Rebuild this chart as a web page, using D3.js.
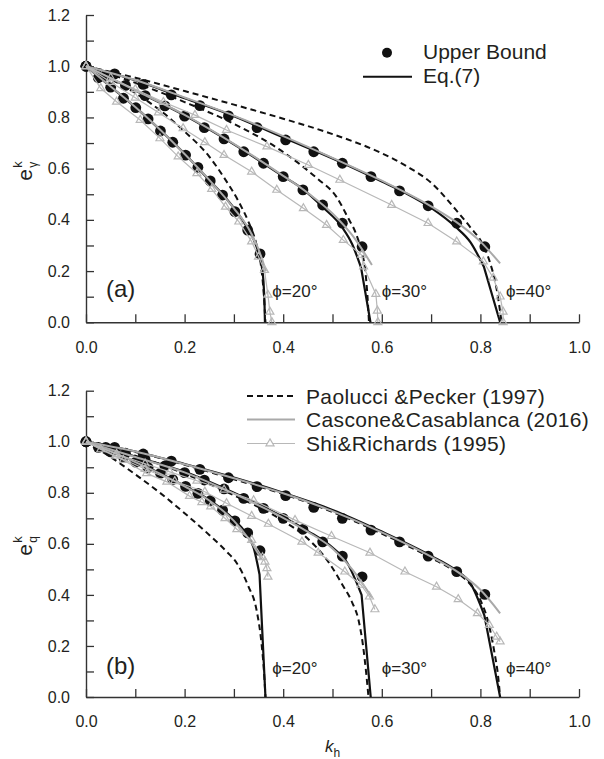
<!DOCTYPE html>
<html>
<head>
<meta charset="utf-8">
<script src="https://cdn.jsdelivr.net/npm/d3@7"></script>
<style>body{margin:0;background:#fff}</style>
</head>
<body>
<script>
// ---- data: [kh, e] pairs ----
// (a) e_gamma
const ubA20 = [[0,1],[0.025,0.955],[0.05,0.918],[0.076,0.875],[0.101,0.838],[0.126,0.794],[0.151,0.747],[0.176,0.703],[0.202,0.653],[0.227,0.605],[0.252,0.552],[0.277,0.497],[0.302,0.432],[0.328,0.36],[0.353,0.267]];
const ubA30 = [[0,1],[0.04,0.963],[0.08,0.925],[0.12,0.885],[0.16,0.845],[0.2,0.805],[0.24,0.76],[0.28,0.716],[0.32,0.666],[0.36,0.621],[0.4,0.569],[0.44,0.517],[0.48,0.458],[0.52,0.387],[0.56,0.295]];
const ubA40 = [[0,1],[0.058,0.97],[0.116,0.929],[0.173,0.888],[0.231,0.846],[0.289,0.806],[0.347,0.76],[0.405,0.712],[0.462,0.666],[0.52,0.621],[0.578,0.569],[0.636,0.513],[0.694,0.455],[0.752,0.387],[0.809,0.295]];

const eqA20 = [[0,1],[0.05,0.92],[0.1,0.84],[0.15,0.752],[0.2,0.658],[0.25,0.555],[0.28,0.493],[0.31,0.42],[0.33,0.36],[0.345,0.3],[0.355,0.235],[0.36,0.16],[0.362,0.08],[0.363,0]];
const eqA30 = [[0,1],[0.1,0.905],[0.2,0.808],[0.3,0.695],[0.4,0.57],[0.44,0.52],[0.48,0.45],[0.52,0.37],[0.54,0.305],[0.558,0.213],[0.577,0]];
const eqA40 = [[0,1],[0.1,0.945],[0.2,0.875],[0.3,0.805],[0.4,0.722],[0.5,0.64],[0.6,0.55],[0.65,0.503],[0.7,0.447],[0.75,0.372],[0.78,0.312],[0.807,0.217],[0.84,0]];

const ppA20 = [[0,1],[0.05,0.95],[0.1,0.895],[0.15,0.828],[0.2,0.745],[0.25,0.647],[0.28,0.565],[0.31,0.47],[0.33,0.39],[0.345,0.31],[0.355,0.22],[0.361,0.1],[0.364,0]];
const ppA30 = [[0,1],[0.1,0.935],[0.2,0.86],[0.3,0.775],[0.4,0.665],[0.434,0.617],[0.47,0.56],[0.508,0.49],[0.532,0.406],[0.546,0.354],[0.559,0.276],[0.566,0.21],[0.571,0.1],[0.574,0]];
const ppA40 = [[0,1],[0.1,0.955],[0.2,0.903],[0.3,0.85],[0.4,0.795],[0.5,0.735],[0.6,0.66],[0.65,0.61],[0.7,0.545],[0.75,0.44],[0.78,0.37],[0.803,0.31],[0.82,0.23],[0.832,0.14],[0.843,0]];

const ccA20 = [[0,1],[0.05,0.921],[0.1,0.841],[0.15,0.753],[0.2,0.657],[0.25,0.556],[0.3,0.445],[0.33,0.365],[0.35,0.285],[0.365,0.2]];
const ccA30 = [[0,1],[0.1,0.906],[0.2,0.81],[0.3,0.697],[0.4,0.572],[0.45,0.505],[0.5,0.425],[0.54,0.34],[0.58,0.224]];
const ccA40 = [[0,1],[0.1,0.946],[0.2,0.878],[0.3,0.807],[0.4,0.727],[0.5,0.642],[0.6,0.553],[0.7,0.453],[0.75,0.393],[0.8,0.315],[0.84,0.23]];

const srA20 = [[0,1],[0.03,0.914],[0.062,0.861],[0.11,0.79],[0.15,0.718],[0.187,0.647],[0.225,0.582],[0.255,0.52],[0.283,0.451],[0.31,0.393],[0.336,0.315],[0.35,0.256],[0.362,0.204],[0.369,0.107],[0.373,0.041],[0.377,0]];
const srA30 = [[0,1],[0.05,0.938],[0.1,0.877],[0.147,0.819],[0.197,0.757],[0.241,0.703],[0.28,0.653],[0.336,0.588],[0.387,0.517],[0.441,0.445],[0.488,0.38],[0.522,0.321],[0.559,0.263],[0.563,0.218],[0.588,0.11],[0.591,0.045],[0.592,0]];
const srA40 = [[0,1],[0.05,0.955],[0.1,0.91],[0.157,0.86],[0.221,0.809],[0.285,0.751],[0.367,0.686],[0.451,0.614],[0.515,0.556],[0.62,0.458],[0.694,0.387],[0.752,0.315],[0.806,0.237],[0.826,0.174],[0.84,0.1],[0.846,0.041],[0.846,0]];

// (b) e_q
const ubB20 = [[0,1],[0.025,0.978],[0.05,0.96],[0.076,0.94],[0.101,0.92],[0.126,0.899],[0.151,0.877],[0.176,0.852],[0.202,0.825],[0.227,0.798],[0.252,0.769],[0.277,0.732],[0.302,0.69],[0.328,0.643],[0.353,0.573]];
const ubB30 = [[0,1],[0.04,0.978],[0.08,0.955],[0.12,0.93],[0.16,0.905],[0.2,0.879],[0.24,0.85],[0.28,0.815],[0.32,0.778],[0.36,0.739],[0.4,0.7],[0.44,0.657],[0.48,0.608],[0.52,0.552],[0.56,0.471]];
const ubB40 = [[0,1],[0.058,0.978],[0.116,0.952],[0.173,0.924],[0.231,0.892],[0.289,0.859],[0.347,0.824],[0.405,0.789],[0.462,0.743],[0.52,0.7],[0.578,0.654],[0.636,0.608],[0.694,0.552],[0.752,0.491],[0.809,0.402]];

const eqB20 = [[0,1],[0.05,0.963],[0.1,0.922],[0.15,0.877],[0.2,0.827],[0.25,0.772],[0.3,0.695],[0.325,0.64],[0.34,0.585],[0.352,0.48],[0.364,0]];
const eqB30 = [[0,1],[0.1,0.942],[0.2,0.882],[0.3,0.8],[0.4,0.705],[0.45,0.65],[0.5,0.585],[0.53,0.525],[0.559,0.4],[0.5775,0]];
const eqB40 = [[0,1],[0.1,0.962],[0.2,0.913],[0.3,0.86],[0.4,0.8],[0.5,0.733],[0.6,0.648],[0.7,0.553],[0.75,0.497],[0.78,0.445],[0.808,0.32],[0.84,0]];

const ppB20 = [[0,1],[0.05,0.94],[0.1,0.872],[0.15,0.8],[0.2,0.72],[0.25,0.635],[0.285,0.57],[0.306,0.524],[0.329,0.435],[0.346,0.34],[0.356,0.21],[0.361,0.1],[0.364,0]];
const ppB30 = [[0,1],[0.1,0.945],[0.2,0.875],[0.3,0.79],[0.4,0.69],[0.45,0.62],[0.495,0.52],[0.52,0.44],[0.54,0.37],[0.553,0.3],[0.562,0.2],[0.568,0.1],[0.573,0]];
const ppB40 = [[0,1],[0.1,0.96],[0.2,0.91],[0.3,0.853],[0.4,0.795],[0.5,0.725],[0.6,0.64],[0.7,0.545],[0.75,0.49],[0.78,0.44],[0.8,0.38],[0.815,0.3],[0.828,0.18],[0.836,0.08],[0.84,0]];

const ccB20 = [[0,1],[0.05,0.962],[0.1,0.92],[0.15,0.875],[0.2,0.825],[0.25,0.77],[0.3,0.69],[0.33,0.62],[0.356,0.54]];
const ccB30 = [[0,1],[0.1,0.94],[0.2,0.88],[0.3,0.797],[0.4,0.702],[0.45,0.647],[0.5,0.582],[0.54,0.5],[0.58,0.39]];
const ccB40 = [[0,1],[0.1,0.962],[0.2,0.912],[0.3,0.857],[0.4,0.798],[0.5,0.728],[0.6,0.645],[0.7,0.55],[0.75,0.495],[0.8,0.42],[0.84,0.328]];

const srB20 = [[0,1],[0.03,0.97],[0.076,0.928],[0.123,0.876],[0.164,0.843],[0.21,0.787],[0.235,0.763],[0.253,0.746],[0.282,0.7],[0.306,0.657],[0.336,0.615],[0.358,0.547],[0.363,0.53],[0.367,0.504],[0.369,0.471]];
const srB30 = [[0,1],[0.06,0.945],[0.12,0.893],[0.18,0.845],[0.241,0.804],[0.285,0.759],[0.336,0.709],[0.37,0.678],[0.438,0.608],[0.471,0.565],[0.525,0.491],[0.558,0.439],[0.575,0.393],[0.586,0.343]];
const srB40 = [[0,1],[0.062,0.952],[0.12,0.914],[0.17,0.882],[0.225,0.847],[0.28,0.812],[0.34,0.77],[0.424,0.693],[0.498,0.63],[0.576,0.565],[0.647,0.491],[0.711,0.432],[0.755,0.383],[0.794,0.328],[0.818,0.282],[0.833,0.236],[0.84,0.217]];

const phiLabels = ["\u03D5=20\u00B0", "\u03D5=30\u00B0", "\u03D5=40\u00B0"];
const phiLabelK = [0.378, 0.6, 0.852];
const xTicks = d3.range(0, 11).map(i => i / 10);
const yTicks = d3.range(0, 13).map(i => i / 10);
const legendNames = ["Paolucci &Pecker (1997)", "Cascone&Casablanca (2016)", "Shi&Richards (1995)"];

const FONT = "'Liberation Sans', Arial, Helvetica, sans-serif";
const INK = "#231f20";
const GREY = "#a9a9a9";
const LIGHT = "#b8b8b8";

var svg = d3.select("body")
            .append("svg")
            .attr("width", 604)
            .attr("height", 759)
            .style("font-family", FONT)
            .style("background", "#fff");

var x = d3.scaleLinear().domain([0, 1]).range([86, 579]);
var yA = d3.scaleLinear().domain([0, 1.2]).range([322.3, 15]);
var yB = d3.scaleLinear().domain([0, 1.2]).range([697, 390.7]);

function drawPanel(y, ub, eq, pp, cc, sr, tag, sub, labelBase) {
    var g = svg.append("g");

    // axes
    var xAxis = d3.axisBottom(x).tickValues(xTicks).tickSizeInner(-8).tickSizeOuter(0).tickPadding(19)
        .tickFormat((d, i) => i % 2 === 0 ? d3.format(".1f")(d) : "");
    var yAxis = d3.axisLeft(y).tickValues(yTicks).tickSizeInner(-8).tickSizeOuter(0).tickPadding(16)
        .tickFormat((d, i) => i % 2 === 0 ? d3.format(".1f")(d) : "");
    var gx = g.append("g").attr("transform", "translate(0," + y(0) + ")").call(xAxis);
    var gy = g.append("g").attr("transform", "translate(" + x(0) + ",0)").call(yAxis);
    [gx, gy].forEach(a => {
        a.select(".domain").attr("stroke", "#333").attr("stroke-width", 1.4);
        a.selectAll(".tick line").attr("stroke", "#333").attr("stroke-width", 1.3);
        a.selectAll(".tick text").attr("fill", INK).style("font-size", "16px").style("font-family", FONT);
    });

    var smooth = d3.line().x(d => x(d[0])).y(d => y(d[1])).curve(d3.curveMonotoneX);
    var straight = d3.line().x(d => x(d[0])).y(d => y(d[1]));

    // upper bound dots
    ub.forEach(s => {
        g.append("g").selectAll("circle").data(s).enter().append("circle")
            .attr("cx", d => x(d[0])).attr("cy", d => y(d[1])).attr("r", 5.4)
            .attr("fill", "#111");
    });

    // Eq.(7): smooth part then straight drop to the axis
    eq.forEach(s => {
        var last = s[s.length - 1];
        g.append("path")
            .attr("d", smooth(s.slice(0, -1)) + "L" + x(last[0]) + "," + y(last[1]))
            .attr("fill", "none").attr("stroke", "#111").attr("stroke-width", 2.2);
    });

    // Paolucci & Pecker
    pp.forEach(s => {
        g.append("path").attr("d", smooth(s))
            .attr("fill", "none").attr("stroke", "#111").attr("stroke-width", 2)
            .attr("stroke-dasharray", "6,4");
    });

    // Cascone & Casablanca
    cc.forEach(s => {
        g.append("path").attr("d", smooth(s))
            .attr("fill", "none").attr("stroke", GREY).attr("stroke-width", 2);
    });

    // Shi & Richards
    var tri = d3.symbol(d3.symbolTriangle).size(28);
    sr.forEach(s => {
        g.append("path").attr("d", straight(s))
            .attr("fill", "none").attr("stroke", LIGHT).attr("stroke-width", 1.2);
        g.append("g").selectAll("path").data(s).enter().append("path")
            .attr("d", tri)
            .attr("transform", d => "translate(" + x(d[0]) + "," + y(d[1]) + ")")
            .attr("fill", "none").attr("stroke", LIGHT).attr("stroke-width", 1.2);
    });

    // phi labels
    g.selectAll(".phi").data(phiLabels).enter().append("text")
        .attr("x", (d, i) => x(phiLabelK[i]))
        .attr("y", labelBase)
        .attr("fill", INK).style("font-size", "17px")
        .text(d => d);

    // panel tag
    g.append("text").attr("x", 106).attr("y", labelBase).attr("fill", INK)
        .style("font-size", "24px").text(tag);

    // y title e^k_sub, rotated
    var yt = g.append("g").attr("transform", "translate(32," + (y(0.6) + 12) + ") rotate(-90)");
    yt.append("text").attr("x", 0).attr("y", 0).attr("fill", INK).style("font-size", "21px").text("e");
    yt.append("text").attr("x", 13).attr("y", -10).attr("fill", INK).style("font-size", "13px").text("k");
    yt.append("text").attr("x", 13).attr("y", 5).attr("fill", INK).style("font-size", "12px").text(sub);
}

drawPanel(yA, [ubA20, ubA30, ubA40], [eqA20, eqA30, eqA40], [ppA20, ppA30, ppA40],
          [ccA20, ccA30, ccA40], [srA20, srA30, srA40], "(a)", "\u03B3", 296.5);
drawPanel(yB, [ubB20, ubB30, ubB40], [eqB20, eqB30, eqB40], [ppB20, ppB30, ppB40],
          [ccB20, ccB30, ccB40], [srB20, srB30, srB40], "(b)", "q", 673.5);

// legend (a)
var legA = svg.append("g");
legA.append("circle").attr("cx", 387).attr("cy", 52.7).attr("r", 5).attr("fill", "#111");
legA.append("line").attr("x1", 363).attr("x2", 412).attr("y1", 76.7).attr("y2", 76.7)
    .attr("stroke", "#111").attr("stroke-width", 2);
legA.append("text").attr("x", 423).attr("y", 59).attr("fill", INK).style("font-size", "21px").text("Upper Bound");
legA.append("text").attr("x", 423).attr("y", 83).attr("fill", INK).style("font-size", "21px").text("Eq.(7)");

// legend (b)
var legB = svg.append("g");
var legY = [396, 419.5, 443.5];
legB.append("line").attr("x1", 247).attr("x2", 295).attr("y1", legY[0]).attr("y2", legY[0])
    .attr("stroke", "#111").attr("stroke-width", 2).attr("stroke-dasharray", "6,4");
legB.append("line").attr("x1", 247).attr("x2", 295).attr("y1", legY[1]).attr("y2", legY[1])
    .attr("stroke", GREY).attr("stroke-width", 2);
legB.append("line").attr("x1", 247).attr("x2", 295).attr("y1", legY[2]).attr("y2", legY[2])
    .attr("stroke", LIGHT).attr("stroke-width", 1.2);
legB.append("path").attr("d", d3.symbol(d3.symbolTriangle).size(28))
    .attr("transform", "translate(270," + legY[2] + ")")
    .attr("fill", "#fff").attr("stroke", LIGHT).attr("stroke-width", 1.2);
legB.selectAll(".lt").data(legendNames).enter().append("text")
    .attr("x", 306).attr("y", (d, i) => legY[i] + 7.5)
    .attr("fill", INK).style("font-size", "21px").style("letter-spacing", "0.35px").text(d => d);

// x title
var xt = svg.append("text").attr("x", 325).attr("y", 752).attr("fill", INK);
xt.append("tspan").style("font-size", "17px").style("font-style", "italic").text("k");
xt.append("tspan").attr("dy", 5).style("font-size", "12px").text("h");
</script>
</body>
</html>
